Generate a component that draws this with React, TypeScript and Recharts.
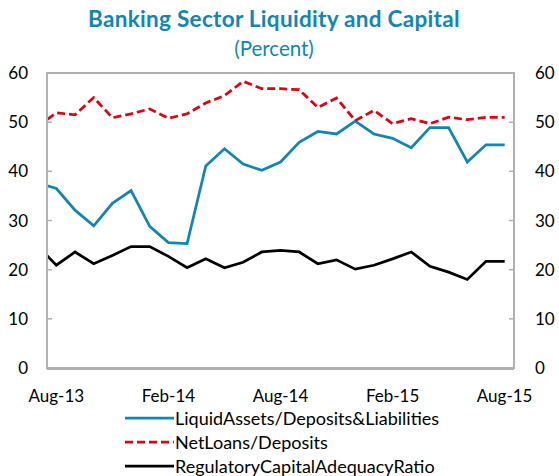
import { Line, LineChart, ReferenceArea, XAxis, YAxis } from "recharts";

// monthly observations; Jul-13 sits just outside the axis and is clipped
const months = [
  "Jul-13", "Aug-13", "Sep-13", "Oct-13", "Nov-13", "Dec-13", "Jan-14", "Feb-14", "Mar-14",
  "Apr-14", "May-14", "Jun-14", "Jul-14", "Aug-14", "Sep-14", "Oct-14", "Nov-14", "Dec-14",
  "Jan-15", "Feb-15", "Mar-15", "Apr-15", "May-15", "Jun-15", "Jul-15", "Aug-15",
];
const liquidAssets = [
  37.7, 36.5, 32.1, 28.9, 33.5, 36.1, 28.8, 25.5, 25.3, 41.1, 44.6, 41.5, 40.2,
  41.9, 45.9, 48.1, 47.6, 50.2, 47.6, 46.7, 44.8, 48.9, 48.9, 41.9, 45.4, 45.4,
];
const netLoans = [
  49.1, 51.9, 51.5, 55.0, 50.9, 51.7, 52.7, 50.8, 51.7, 53.9, 55.4, 58.3, 56.8,
  56.8, 56.6, 53.0, 54.9, 50.3, 52.4, 49.7, 50.7, 49.7, 51.0, 50.5, 51.0, 51.0,
];
const capitalAdequacy = [
  24.8, 20.9, 23.6, 21.2, 22.9, 24.7, 24.7, 22.7, 20.4, 22.2, 20.4, 21.5, 23.6,
  23.9, 23.6, 21.2, 22.0, 20.1, 20.9, 22.2, 23.6, 20.7, 19.5, 18.0, 21.7, 21.7,
];
const xLabels = ["Aug-13", "Feb-14", "Aug-14", "Feb-15", "Aug-15"];
const yTicks = [0, 10, 20, 30, 40, 50, 60];

const data = months.map((month, i) => ({
  idx: i - 1,
  month,
  liquid: liquidAssets[i],
  loans: netLoans[i],
  capital: capitalAdequacy[i],
}));

const labelTicks = xLabels.map((l) => months.indexOf(l) - 1);
const markTicks = labelTicks.slice(1).map((t) => t - 0.5);
const xDomain = [-0.5, months.length - 1.5];
const yDomain = [yTicks[0], yTicks[yTicks.length - 1]];

const TEAL = "#0f86b3";
const GRAY = "#b0b0b0";
const FONT = "Lato, 'Open Sans', sans-serif";
const tickStyle = { fill: "#000", fontSize: 17, fontFamily: FONT };

const series = [
  { key: "liquid", name: "LiquidAssets/Deposits&Liabilities", color: "#1285b2", dash: undefined },
  { key: "loans", name: "NetLoans/Deposits", color: "#e2000f", dash: "8 4" },
  { key: "capital", name: "RegulatoryCapitalAdequacyRatio", color: "#000", dash: undefined },
];

export default function App() {
  return (
    <div style={{ position: "absolute", left: 0, top: 0, width: 559, height: 476 }}>
      <div
        style={{
          position: "absolute",
          left: 0,
          width: 548,
          top: 6,
          textAlign: "center",
          fontFamily: FONT,
          fontWeight: 700,
          fontSize: 22.5,
          letterSpacing: 0.3,
          lineHeight: "26px",
          color: TEAL,
        }}
      >
        Banking Sector Liquidity and Capital
      </div>
      <div
        style={{
          position: "absolute",
          left: 0,
          width: 548,
          top: 35,
          textAlign: "center",
          fontFamily: FONT,
          fontSize: 20.5,
          lineHeight: "26px",
          color: TEAL,
        }}
      >
        (Percent)
      </div>
      <LineChart width={559} height={476} data={data} margin={{ top: 72, right: 0, bottom: 106, left: 0 }}>
        <XAxis
          xAxisId="top"
          orientation="top"
          type="number"
          dataKey="idx"
          domain={xDomain}
          allowDataOverflow
          height={1}
          tick={false}
          tickLine={false}
          axisLine={{ stroke: GRAY, strokeWidth: 2 }}
        />
        <XAxis
          xAxisId="marks"
          type="number"
          dataKey="idx"
          domain={xDomain}
          allowDataOverflow
          ticks={markTicks}
          interval={0}
          height={1}
          tick={false}
          tickSize={-5}
          tickLine={{ stroke: GRAY, strokeWidth: 1.5 }}
          axisLine={{ stroke: GRAY, strokeWidth: 2 }}
        />
        <XAxis
          xAxisId="labels"
          type="number"
          dataKey="idx"
          domain={xDomain}
          allowDataOverflow
          ticks={labelTicks}
          interval={0}
          height={1}
          tickSize={0}
          tickMargin={22}
          tickLine={false}
          axisLine={false}
          tick={tickStyle}
          tickFormatter={(v: number) => months[v + 1]}
        />
        <YAxis
          yAxisId="left"
          domain={yDomain}
          ticks={yTicks}
          interval={0}
          width={47}
          tickSize={-5}
          tickMargin={24}
          tick={tickStyle}
          tickLine={{ stroke: GRAY, strokeWidth: 1.5 }}
          axisLine={{ stroke: GRAY, strokeWidth: 2 }}
        />
        <YAxis
          yAxisId="right"
          orientation="right"
          domain={yDomain}
          ticks={yTicks}
          interval={0}
          width={45}
          tickSize={-5}
          tickMargin={26}
          tick={tickStyle}
          tickLine={{ stroke: GRAY, strokeWidth: 1.5 }}
          axisLine={{ stroke: GRAY, strokeWidth: 2 }}
        />
        {/* plot-area frame */}
        <ReferenceArea
          xAxisId="labels"
          yAxisId="left"
          x1={xDomain[0]}
          x2={xDomain[1]}
          y1={yDomain[0]}
          y2={yDomain[1]}
          fill="none"
          stroke={GRAY}
          strokeWidth={2}
          ifOverflow="visible"
        />
        {/* same domains on every axis; the dashed series is tied to the tick-mark and right axes so they get ticks */}
        {series.map((s) => (
          <Line
            key={s.key}
            xAxisId={s.key === "loans" ? "marks" : "labels"}
            yAxisId={s.key === "loans" ? "right" : "left"}
            type="linear"
            dataKey={s.key}
            name={s.name}
            stroke={s.color}
            strokeWidth={2.75}
            strokeDasharray={s.dash}
            dot={false}
            isAnimationActive={false}
          />
        ))}
      </LineChart>
      <div
        style={{
          position: "absolute",
          left: 125,
          top: 406,
          fontFamily: FONT,
          fontSize: 18,
          color: "#000",
        }}
      >
        {series.map((s) => (
          <div key={s.key} style={{ display: "flex", alignItems: "center", height: 24 }}>
            <svg width={50} height={6}>
              <line x1={0} x2={49} y1={3} y2={3} stroke={s.color} strokeWidth={2.75} strokeDasharray={s.dash} />
            </svg>
            <span style={{ whiteSpace: "nowrap" }}>{s.name}</span>
          </div>
        ))}
      </div>
    </div>
  );
}
